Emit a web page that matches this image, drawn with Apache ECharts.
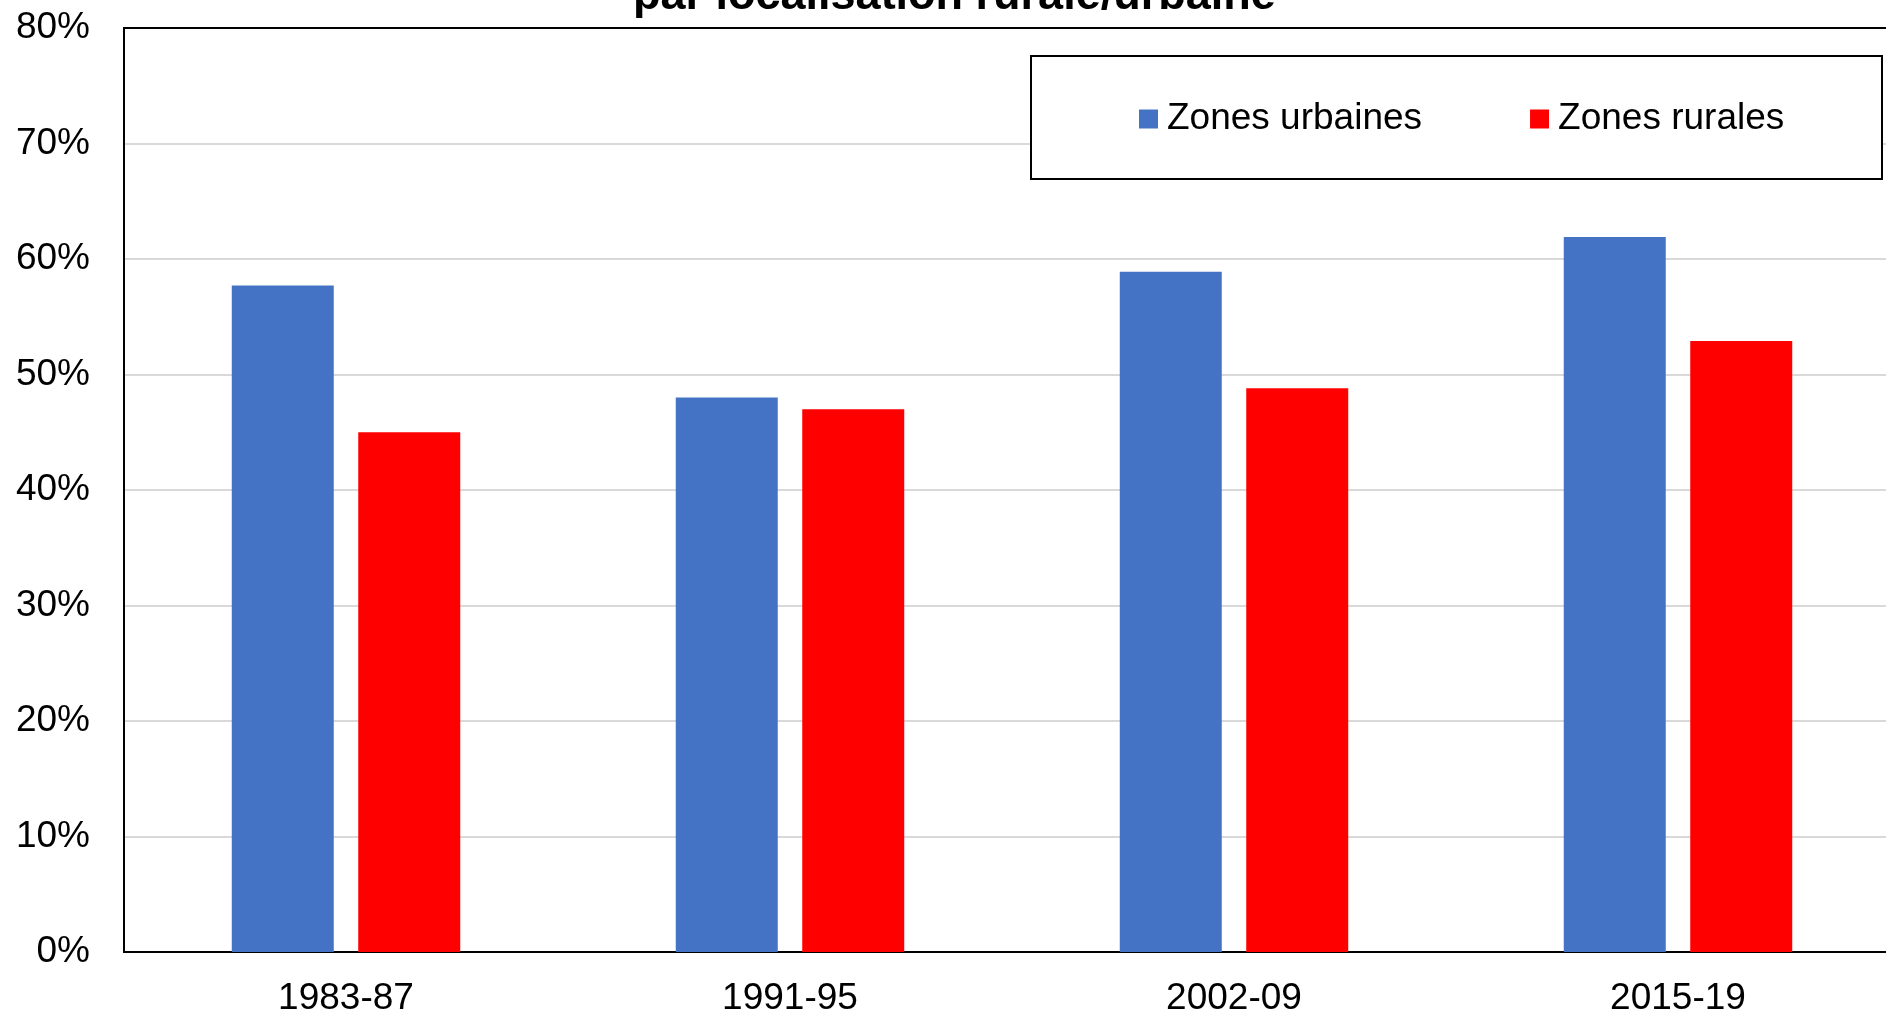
<!DOCTYPE html>
<html>
<head>
<meta charset="utf-8">
<script src="https://cdn.jsdelivr.net/npm/echarts@6/dist/echarts.min.js"></script>
<style>
html, body { margin: 0; padding: 0; background: #fff; }
#chart { width: 1886px; height: 1014px; }
</style>
</head>
<body>
<div id="chart"></div>
<script>
// periods on the x axis
var categories = ['1983-87', '1991-95', '2002-09', '2015-19'];
// values in percent
var urbaines = [57.7, 48.0, 58.9, 61.9];
var rurales = [45.0, 47.0, 48.8, 52.9];
var yTicks = [0, 10, 20, 30, 40, 50, 60, 70, 80];

var FONT = '"Liberation Sans", Arial, sans-serif';

var chart = echarts.init(document.getElementById('chart'));
var option = {
    backgroundColor: '#fff',
    animation: false,
    textStyle: { fontFamily: FONT },
    title: {
        text: 'par localisation rurale/urbaine',
        left: 628,
        top: -31,
        textStyle: {
            fontFamily: FONT,
            fontSize: 45,
            fontWeight: 'bold',
            color: '#000'
        }
    },
    graphic: [{
        type: 'rect',
        z: 3,
        shape: { x: 1031, y: 56, width: 851, height: 123 },
        style: { fill: '#fff', stroke: '#000', lineWidth: 2 }
    }],
    legend: {
        z: 6,
        left: 1134,
        top: 94,
        itemWidth: 19,
        itemHeight: 19,
        itemGap: 108,
        icon: 'rect',
        textStyle: {
            fontFamily: FONT,
            fontSize: 37,
            color: '#000',
            lineHeight: 40,
            padding: [0, 0, 0, 4]
        },
        data: ['Zones urbaines', 'Zones rurales']
    },
    grid: {
        left: 124,
        top: 28,
        width: 1776,
        height: 924,
        show: true,
        borderColor: '#000',
        borderWidth: 2,
        outerBoundsMode: 'none',
        containLabel: false
    },
    xAxis: {
        type: 'category',
        data: categories,
        axisTick: { show: false },
        axisLine: { lineStyle: { color: '#000', width: 2 } },
        axisLabel: {
            color: '#000',
            fontSize: 37,
            fontFamily: FONT,
            margin: 28
        }
    },
    yAxis: {
        type: 'value',
        min: yTicks[0],
        max: yTicks[yTicks.length - 1],
        interval: 10,
        axisLine: { show: true, lineStyle: { color: '#000', width: 2 } },
        axisTick: { show: false },
        splitLine: { showMaxLine: false, lineStyle: { color: '#d9d9d9', width: 2 } },
        axisLabel: {
            color: '#000',
            fontSize: 37,
            fontFamily: FONT,
            margin: 34,
            padding: [5, 0, 0, 0],
            formatter: function (v) { return v + '%'; }
        }
    },
    series: [{
        name: 'Zones urbaines',
        type: 'bar',
        data: urbaines,
        barWidth: 102,
        barGap: '24%',
        itemStyle: { color: '#4472C4' }
    }, {
        name: 'Zones rurales',
        type: 'bar',
        data: rurales,
        barWidth: 102,
        barGap: '24%',
        itemStyle: { color: '#FF0000' }
    }]
};
chart.setOption(option);
</script>
</body>
</html>
